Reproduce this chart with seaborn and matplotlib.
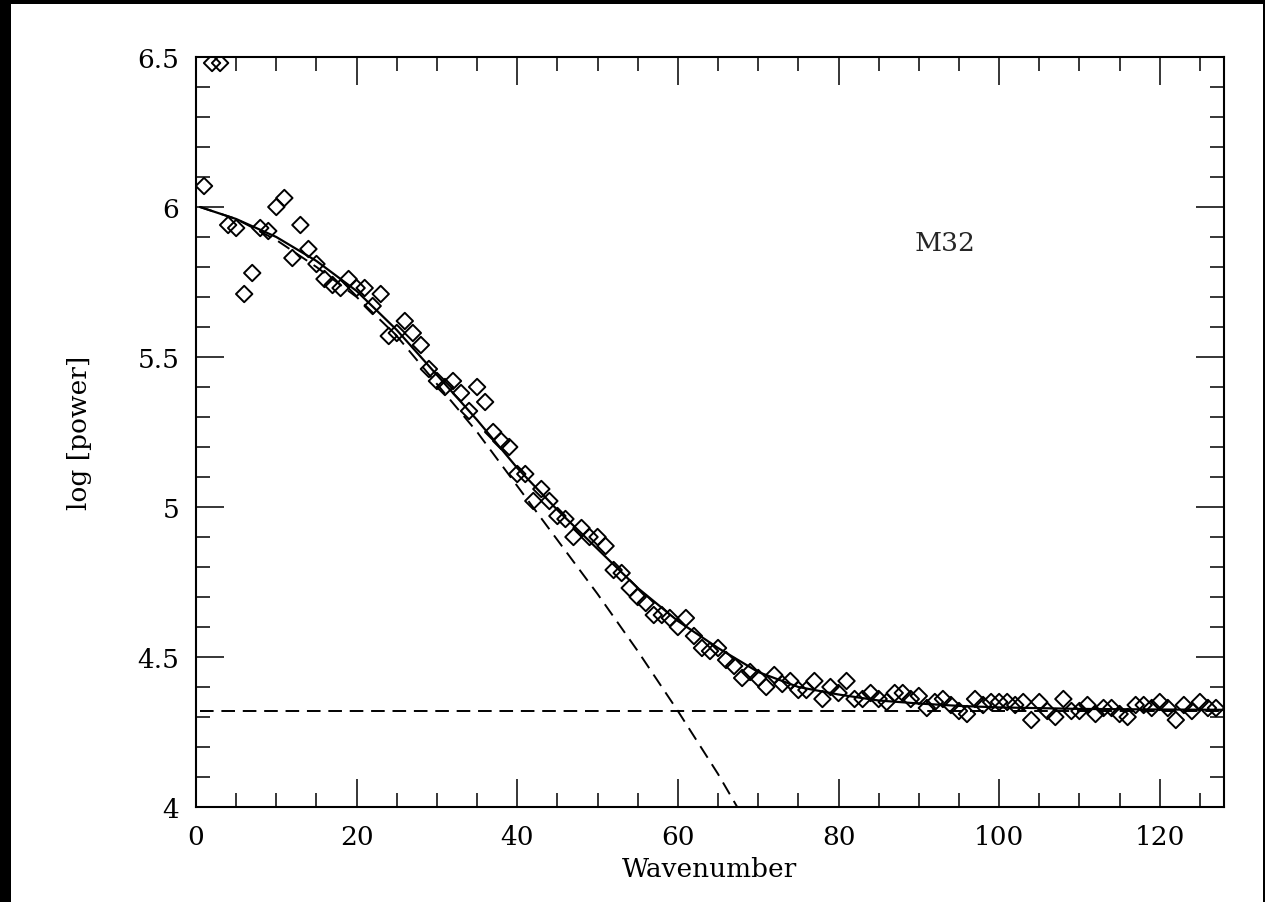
import numpy as np
import matplotlib
matplotlib.use("Agg")
import matplotlib.pyplot as plt
import seaborn as sns
from matplotlib.ticker import MultipleLocator, FuncFormatter
from matplotlib.patches import Rectangle

# measured power spectrum of M32 (one value per wavenumber 1..127)
wavenumber = np.arange(1, 128)
log_power = [
    6.07, 6.48, 6.48, 5.94, 5.93, 5.71, 5.78, 5.93, 5.92, 6.00,
    6.03, 5.83, 5.94, 5.86, 5.81, 5.76, 5.74, 5.73, 5.76, 5.73,
    5.73, 5.67, 5.71, 5.57, 5.58, 5.62, 5.58, 5.54, 5.46, 5.42,
    5.40, 5.42, 5.38, 5.32, 5.40, 5.35, 5.25, 5.22, 5.20, 5.11,
    5.11, 5.02, 5.06, 5.02, 4.97, 4.96, 4.90, 4.93, 4.90, 4.90,
    4.87, 4.79, 4.78, 4.73, 4.70, 4.68, 4.64, 4.64, 4.63, 4.60,
    4.63, 4.57, 4.53, 4.52, 4.53, 4.49, 4.47, 4.43, 4.45, 4.43,
    4.40, 4.44, 4.41, 4.42, 4.39, 4.39, 4.42, 4.36, 4.40, 4.38,
    4.42, 4.36, 4.36, 4.38, 4.36, 4.35, 4.38, 4.38, 4.36, 4.37,
    4.33, 4.35, 4.36, 4.34, 4.32, 4.31, 4.36, 4.34, 4.35, 4.35,
    4.35, 4.34, 4.35, 4.29, 4.35, 4.32, 4.30, 4.36, 4.32, 4.32,
    4.34, 4.31, 4.33, 4.33, 4.31, 4.30, 4.34, 4.34, 4.33, 4.35,
    4.33, 4.29, 4.34, 4.32, 4.35, 4.33, 4.33,
]

# total fit (solid line)
fit_k = [0.5, 5, 10, 15, 20, 25, 30, 35, 40, 45, 50, 55, 60, 65, 70,
         75, 80, 85, 90, 95, 100, 110, 120, 128]
fit_logp = [6.00, 5.96, 5.90, 5.82, 5.72, 5.59, 5.44, 5.29, 5.13, 4.99, 4.86,
            4.73, 4.62, 4.53, 4.45, 4.40, 4.375, 4.355, 4.345, 4.337, 4.332,
            4.327, 4.325, 4.324]

# PSF component (steep dashed line)
psf_k = [0.5, 5, 10, 15, 20, 25, 30, 35, 40, 45, 50, 55, 60, 65, 70]
psf_logp = [6.00, 5.96, 5.89, 5.80, 5.70, 5.57, 5.41, 5.25, 5.07, 4.89, 4.71,
            4.52, 4.32, 4.11, 3.88]

# white noise level (flat dashed line)
noise_k = [0.5, 128]
noise_logp = [4.32, 4.32]

sns.set_theme(style="ticks")
plt.rcParams["font.family"] = ["DejaVu Serif"]

fig, ax = plt.subplots(figsize=(12.65, 9.03), dpi=100)
fig.patch.set_facecolor("black")
fig.patches.append(Rectangle((11 / 1265, 0), 1252 / 1265, 898 / 903,
                             transform=fig.transFigure, facecolor="white",
                             edgecolor="none", zorder=-10))
fig.subplots_adjust(left=196 / 1265, right=1224 / 1265,
                    bottom=1 - 808 / 903, top=1 - 58 / 903)
ax.set_facecolor("white")

sns.lineplot(x=fit_k, y=fit_logp, color="black", lw=1.6, ax=ax,
             estimator=None, sort=False)
sns.lineplot(x=psf_k, y=psf_logp, color="black", lw=1.4, ax=ax,
             estimator=None, sort=False, linestyle=(0, (7, 4)))
sns.lineplot(x=noise_k, y=noise_logp, color="black", lw=1.4, ax=ax,
             estimator=None, sort=False, linestyle=(0, (7, 4)))

sns.scatterplot(x=wavenumber, y=log_power, marker="D", s=70, ax=ax, zorder=3)
pts = ax.collections[-1]
pts.set_facecolor("none")
pts.set_edgecolor("black")
pts.set_linewidth(1.4)

ax.text(89.5, 5.88, "M32", fontsize=19, ha="left", va="center")

ax.set_xlim(0, 128)
ax.set_ylim(4, 6.5)
ax.xaxis.set_major_locator(MultipleLocator(20))
ax.xaxis.set_minor_locator(MultipleLocator(5))
ax.yaxis.set_major_locator(MultipleLocator(0.5))
ax.yaxis.set_minor_locator(MultipleLocator(0.1))
ax.yaxis.set_major_formatter(FuncFormatter(lambda v, p: f"{v:g}"))
ax.tick_params(which="both", direction="in", top=True, right=True,
               width=1.1, color="black", labelcolor="black")
ax.tick_params(which="major", length=20, labelsize=19, pad=12)
ax.tick_params(which="minor", length=10)
for sp in ax.spines.values():
    sp.set_linewidth(1.5)
    sp.set_color("black")

ax.set_xlabel("Wavenumber", fontsize=19, labelpad=5, color="black")
ax.set_ylabel("log [power]", fontsize=19, labelpad=33, color="black")

fig.savefig("out.png", dpi=100, facecolor=fig.get_facecolor())
